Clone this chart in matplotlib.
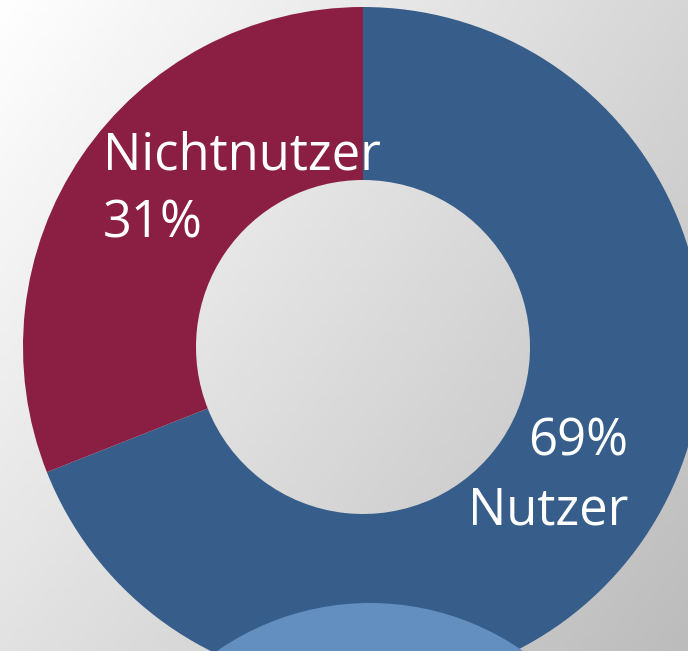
import numpy as np
import matplotlib.pyplot as plt
from matplotlib.patches import Circle

labels = ["Nutzer", "Nichtnutzer"]
anteile = [69, 31]
farben = ["#375e8b", "#8a1f43"]

W, H = 688, 651
fig = plt.figure(figsize=(W / 100, H / 100), dpi=100)
ax = fig.add_axes([0, 0, 1, 1])
ax.set_xlim(0, W)
ax.set_ylim(0, H)
ax.set_aspect("equal")
ax.axis("off")

# Hintergrund mit grauem Verlauf (oben links weiss, unten rechts grau)
xs = np.linspace(0, 1, 200)
ys = np.linspace(0, 1, 200)
gx, gy = np.meshgrid(xs, ys)
tl, tr, bl, br = 255, 214, 226, 188
grau = (tl * (1 - gx) * (1 - gy) + tr * gx * (1 - gy)
        + bl * (1 - gx) * gy + br * gx * gy) / 255
bild = np.dstack([grau, grau, grau])
ax.imshow(bild, extent=[0, W, 0, H], origin="upper", zorder=0, aspect="auto")

mitte = (363, H - 347)
ax.pie(anteile, colors=farben, startangle=90, counterclock=False,
       center=mitte, radius=340, frame=True,
       wedgeprops=dict(width=173, linewidth=0))
ax.set_xlim(0, W)
ax.set_ylim(0, H)
ax.axis("off")

# hellblauer Kreis unten
ax.add_patch(Circle((370, H - 871), 268, color="#628fc0", lw=0, zorder=5))

schrift = ["Open Sans", "DejaVu Sans"]
ax.text(103, H - 130, "Nichtnutzer\n31%", color="white", fontsize=36.5,
        family=schrift, ha="left", va="top", linespacing=1.46, zorder=6)
ax.text(628, H - 417, "69%\nNutzer", color="white", fontsize=36.5,
        family=schrift, ha="right", va="top", linespacing=1.44, zorder=6)

fig.savefig("out.png", dpi=100)
